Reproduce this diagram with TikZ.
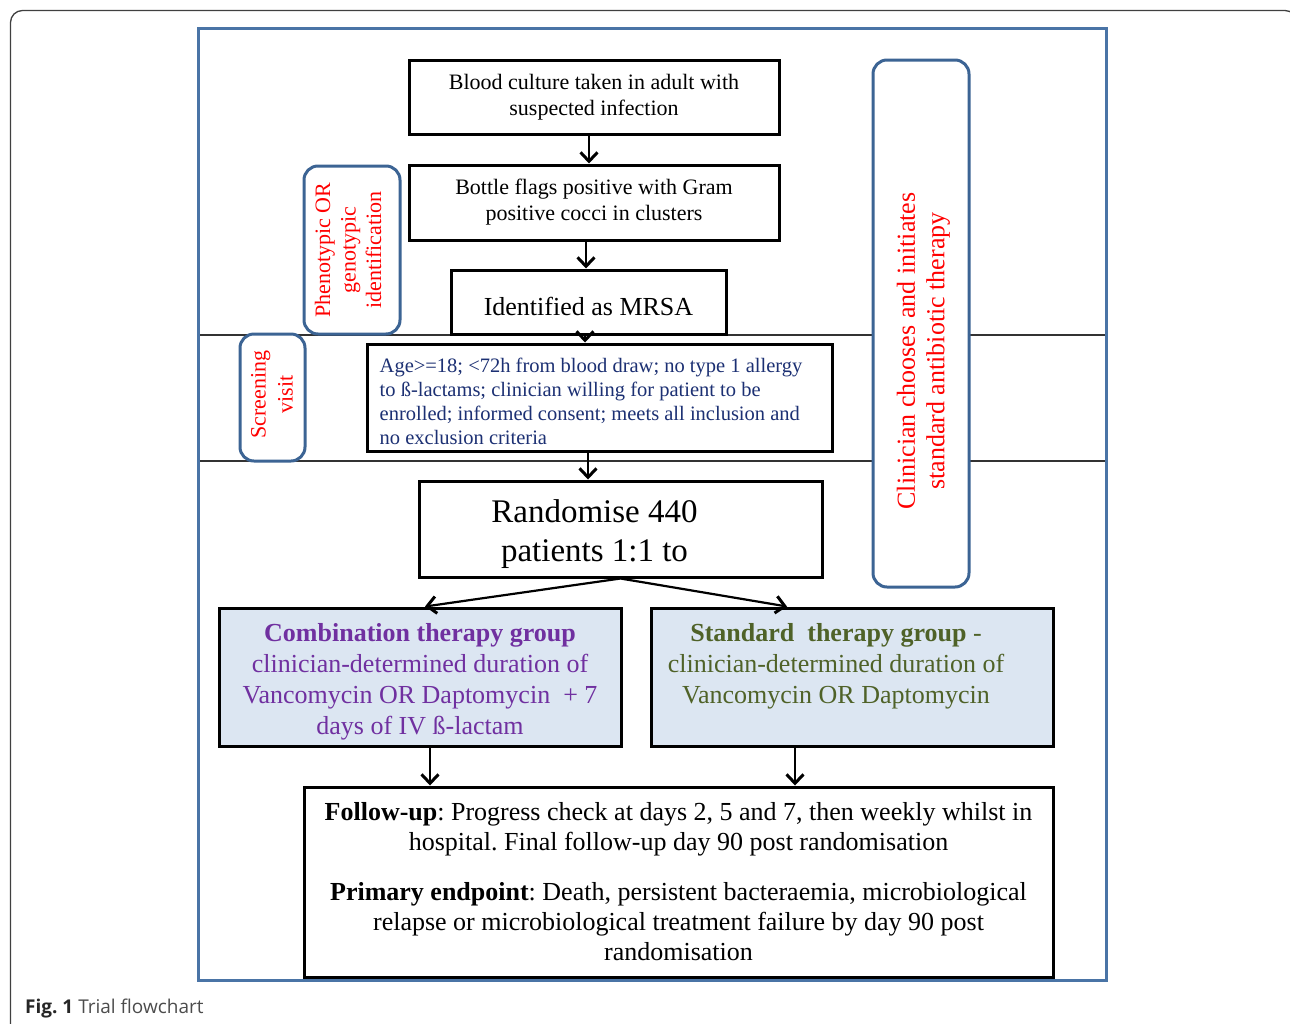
\documentclass[tikz,border=0pt]{standalone}
\usepackage{fontspec}
\setmainfont{Liberation Serif}
\newfontfamily\capfont{Open Sans}
\usetikzlibrary{arrows.meta,calc}
\definecolor{frameblue}{RGB}{74,116,166}
\definecolor{rbblue}{RGB}{60,100,148}
\definecolor{navytext}{RGB}{28,48,115}
\definecolor{purpletext}{RGB}{112,48,160}
\definecolor{olivetext}{RGB}{79,98,40}
\definecolor{groupfill}{RGB}{220,230,242}
\definecolor{redtext}{RGB}{255,0,0}
\frenchspacing
\begin{document}
\begin{tikzpicture}[x=1pt,y=-1pt,
  box/.style={draw=black, line width=3pt, fill=white, inner sep=0pt, align=center},
  gbox/.style={box, fill=groupfill},
  rbox/.style={draw=rbblue, line width=3pt, fill=white, rounded corners=14pt, inner sep=0pt, align=center, rotate=90},
  vtext/.style={rotate=90, text=redtext, align=center, inner sep=0pt},
  lbl/.style={align=center, inner sep=0pt},
  arr/.style={line width=2.2pt, -{Straight Barb[length=9pt,width=17pt,line width=3pt 0]}},
  sepline/.style={line width=1.3pt, black!80},
]
\useasboundingbox (0,0) rectangle (1290,1023);
% outer rounded frame
\draw[line width=1.3pt, black!75, rounded corners=12pt] (10.5,1045) -- (10.5,10.5) -- (1297,10.5) -- (1297,1045);
% separator lines
\draw[sepline] (199.5,335) -- (1104.5,335);
\draw[sepline] (199.5,461) -- (1104.5,461);
% blue frame
\node[draw=frameblue, line width=3pt, minimum width=908pt, minimum height=952pt, inner sep=0pt] (frame) at (652,504) {};

% main boxes
\node[box, minimum width=370pt, minimum height=74pt, font=\fontsize{22}{26}\selectfont] (b1) at (594,97)
  {Blood culture taken in adult with\\suspected infection};
\node[box, minimum width=370pt, minimum height=75pt, font=\fontsize{22}{26}\selectfont] (b2) at (594,202.5)
  {Bottle flags positive with Gram\\positive cocci in clusters};
\node[box, minimum width=275pt, minimum height=64pt] (b3) at (588.5,302) {};
\node[lbl, font=\fontsize{26}{30}\selectfont] (b3t) at ($(b3.center)+(0,4.5)$) {Identified as MRSA};
\node[box, minimum width=465pt, minimum height=107pt] (b4) at (599.5,397.5) {};
\node[lbl, anchor=west, align=left, text=navytext, font=\fontsize{20.5}{24}\selectfont] (b4t) at ($(b4.west)+(14,4)$)
  {Age>=18; <72h from blood draw; no type 1 allergy\\to ß-lactams; clinician willing for patient to be\\enrolled; informed consent; meets all inclusion and\\no exclusion criteria};
\node[box, minimum width=403pt, minimum height=96pt] (b5) at (620.5,529) {};
\node[lbl, font=\fontsize{33}{39}\selectfont] (b5t) at ($(b5.center)+(-26,5)$)
  {Randomise 440\\patients 1:1 to};
\node[gbox, minimum width=402pt, minimum height=138pt] (b6) at (420,677) {};
\node[lbl, text=purpletext, font=\fontsize{26}{31}\selectfont] (b6t) at ($(b6.center)+(0,5)$)
  {\textbf{Combination therapy group}\\clinician-determined duration of\\Vancomycin OR Daptomycin\ \ + 7\\days of IV ß-lactam};
\node[gbox, minimum width=402pt, minimum height=138pt] (b7) at (852,677) {};
\node[lbl, text=olivetext, font=\fontsize{26}{31}\selectfont] (b7t) at ($(b7.center)+(-16,-11)$)
  {\textbf{Standard\ \ therapy group} -\\clinician-determined duration of\\Vancomycin OR Daptomycin};
\node[box, minimum width=749pt, minimum height=190pt, font=\fontsize{26}{30}\selectfont] (b8) at (678.5,882)
  {\textbf{Follow-up}: Progress check at days 2, 5 and 7, then weekly whilst in\\
   hospital. Final follow-up day 90 post randomisation\\[20pt]
   \textbf{Primary endpoint}: Death, persistent bacteraemia, microbiological\\
   relapse or microbiological treatment failure by day 90 post\\
   randomisation};

% rounded side boxes
\node[rbox, minimum width=168pt, minimum height=96pt] (ph) at (352,250) {};
\node[vtext, font=\fontsize{22}{25.5}\selectfont] (pht) at ($(ph.center)+(-4,0)$)
  {Phenotypic OR\\genotypic\\identification};
\node[rbox, minimum width=127pt, minimum height=65pt] (sc) at (272.5,397.5) {};
\node[vtext, font=\fontsize{22}{27}\selectfont] (sct) at ($(sc.center)+(-0.5,-3)$)
  {Screening\\visit};
\node[rbox, minimum width=527pt, minimum height=96pt] (cl) at (921,323.5) {};
\node[vtext, font=\fontsize{26}{29.5}\selectfont] (clt) at ($(cl.center)+(2.5,27.5)$)
  {Clinician chooses and initiates\\standard antibiotic therapy};

% connectors
\draw[arr] ([xshift=-5pt]b1.south) -- ([xshift=-5pt]b2.north);
\draw[arr] ([xshift=-8pt]b2.south) -- ([xshift=-2.5pt]b3.north);
\draw[arr] ([xshift=-3.5pt]b3.south) -- ([xshift=-14.5pt]b4.north);
\draw[arr] ([xshift=-11.5pt]b4.south) -- ([xshift=-32.5pt]b5.north);
\draw[arr] (b5.south) -- ([xshift=5pt]b6.north);
\draw[arr] (b5.south) -- ([xshift=-65pt]b7.north);
\draw[arr] ([xshift=10pt]b6.south) -- ([xshift=10pt]b6.south |- b8.north);
\draw[arr] ([xshift=-57pt]b7.south) -- ([xshift=-57pt]b7.south |- b8.north);

% caption
\node[anchor=base west, inner sep=0pt, font=\capfont\fontsize{19}{23}\selectfont] (cap) at (25,1013)
  {{\color{black!85}\textbf{Fig. 1}} {\color{black!70}Trial flowchart}};
\end{tikzpicture}
\end{document}
